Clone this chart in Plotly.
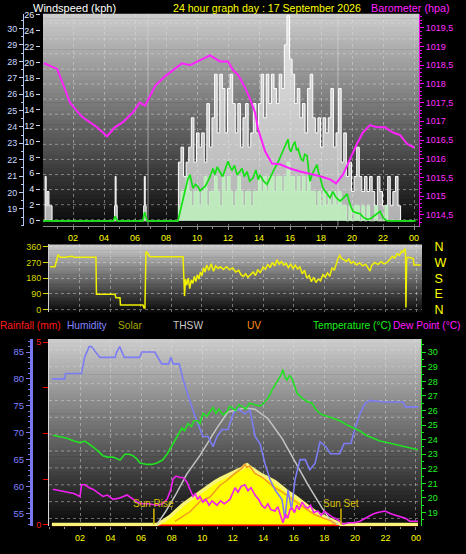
import plotly.graph_objects as go

W, H = 466, 554
def px(x): return x / W
def py(y): return 1 - y / H

# ---------------- DATA ----------------
hour_ticks = [2, 4, 6, 8, 10, 12, 14, 16, 18, 20, 22, 24]
hour_labels = ["02", "04", "06", "08", "10", "12", "14", "16", "18", "20", "22", "00"]

# Barometer (hPa)
baro = [(0.13,1018.55),(0.97,1018.4),(1.35,1018.0),(1.8,1017.5),(2.45,1017.18),(2.65,1017.1),
        (3.55,1016.84),(4.2,1016.6),(4.7,1016.84),(5.2,1016.97),(5.87,1017.24),(6.3,1017.5),
        (6.65,1017.42),(7.3,1017.95),(7.94,1018.2),(8.58,1018.4),(9.03,1018.55),(9.55,1018.5),
        (10.2,1018.63),(10.84,1018.76),(11.48,1018.6),(12.0,1018.6),(12.32,1018.37),(12.65,1018.24),
        (13.1,1017.9),(13.42,1017.6),(13.74,1017.24),(13.94,1016.79),(14.39,1016.2),(14.84,1015.87),
        (15.35,1015.85),(16.0,1015.74),(16.65,1015.66),(17.3,1015.6),(17.94,1015.53),(18.58,1015.45),
        (18.97,1015.34),(19.42,1015.58),(19.87,1016.0),(20.32,1016.4),(20.7,1016.7),(21.16,1016.9),
        (21.6,1016.84),(22.13,1016.84),(22.65,1016.7),(23.1,1016.63),(23.55,1016.4),(24.0,1016.3)]

# Wind gust (kph): early isolated readings, then 10-minute readings from 08:48
gust_early = [(0.0,0),(0.15,0),(0.2,5.6),(0.27,1.9),(0.33,3.7),(0.45,1.9),(0.55,1.9),(0.65,0),
              (4.62,0),(4.68,1.9),(4.72,5.6),(4.78,1.9),(4.85,0),(6.5,0),(6.56,1.9),(6.6,5.6),
              (6.66,1.9),(6.72,0),(8.75,0)]
gust_start = 8.8
gust_10min = [7.4, 9.3, 5.6, 7.4, 9.3, 13.0,
              7.4, 11.1, 9.3, 11.1, 7.4, 14.8,
              9.3, 13.0, 18.5, 11.1, 18.5, 16.7,
              11.1, 16.7, 18.5, 14.8, 11.1, 14.8,
              9.3, 13.0, 14.8, 9.3, 11.1, 14.8,
              11.1, 14.8, 18.5, 13.0, 18.5, 14.8,
              18.5, 16.7, 14.8, 18.5, 16.7, 22.2,
              25.9, 20.4, 18.5, 14.8, 16.7, 13.0,
              14.8, 11.1, 16.7, 18.5, 13.0, 11.1,
              13.0, 9.3, 13.0, 11.1, 13.0, 16.7,
              9.3, 11.1, 16.7, 7.4, 11.1, 5.6,
              7.4, 3.7, 5.6, 9.3, 5.6, 3.7,
              5.6, 3.7, 5.6, 3.7, 1.9, 5.6,
              3.7, 1.9, 1.9, 5.6, 1.9, 3.7,
              5.6, 1.9, 0, 0, 0, 0,
              0, 0]
# Wind speed (kph), 10-minute readings from 08:48
speed_10min = [1.9, 3.7, 3.7, 5.6, 3.7, 1.9,
               3.7, 3.7, 1.9, 3.7, 5.6, 1.9,
               3.7, 3.7, 5.6, 3.7, 1.9, 5.6,
               3.7, 5.6, 3.7, 1.9, 3.7, 5.6,
               3.7, 1.9, 3.7, 3.7, 1.9, 3.7,
               3.7, 5.6, 3.7, 5.6, 3.7, 5.6,
               5.6, 3.7, 5.6, 5.6, 3.7, 5.6,
               7.4, 5.6, 5.6, 3.7, 5.6, 3.7,
               5.6, 3.7, 5.6, 3.7, 3.7, 1.9,
               3.7, 1.9, 3.7, 1.9, 3.7, 1.9,
               3.7, 1.9, 3.7, 1.9, 1.9, 0,
               1.9, 0, 1.9, 1.9, 0, 1.9,
               0, 1.9, 0, 0, 1.9, 0,
               0, 0, 1.9, 0, 0, 0,
               0, 0, 0, 0, 0, 0,
               0, 0]
# Average wind (kph)
wind_avg = [(0,0),(4.6,0),(4.72,0.6),(4.85,0),(6.5,0),(6.62,1.1),(6.78,0),(8.77,0),(9.0,1.9),(9.23,3.7),
            (9.4,5.2),(9.55,5.8),(9.65,4.6),(9.74,4.1),(9.9,4.6),(10.06,4.3),(10.2,3.8),(10.39,4.1),
            (10.55,4.4),(10.7,5.0),(10.85,5.6),(11.03,6.6),(11.15,5.8),(11.3,6.8),(11.48,6.2),(11.65,5.6),
            (11.8,6.4),(12.0,7.5),(12.13,6.8),(12.26,6.4),(12.42,7.0),(12.58,5.8),(12.75,6.2),(12.9,6.6),
            (13.05,5.6),(13.23,6.2),(13.4,5.0),(13.61,5.4),(13.8,6.4),(13.95,5.2),(14.06,5.8),(14.3,5.0),
            (14.52,4.6),(14.7,5.4),(14.84,6.0),(15.0,6.6),(15.16,7.1),(15.35,8.0),(15.55,8.7),(15.7,9.6),
            (15.87,10.3),(15.95,9.2),(16.06,8.7),(16.2,9.6),(16.32,10.0),(16.42,8.9),(16.52,9.1),(16.68,8.0),
            (16.84,7.5),(16.95,8.4),(17.1,8.2),(17.2,6.4),(17.29,5.0),(17.45,6.0),(17.6,6.6),(17.74,7.1),
            (17.85,6.0),(17.94,5.5),(18.13,4.1),(18.3,3.6),(18.45,3.2),(18.58,2.9),(18.77,3.7),(18.95,3.0),
            (19.1,2.7),(19.23,2.5),(19.45,2.9),(19.68,3.4),(19.85,2.2),(20.06,1.2),(20.3,1.0),(20.52,0.9),
            (20.75,0.4),(20.97,0.2),(21.2,0.3),(21.45,0.6),(21.61,0.9),(21.81,1.2),(22.0,0.4),(22.26,0),(24.1,0)]

# Wind direction (degrees)
wind_dir = [(0.07,245),(0.39,245),(0.52,290),(0.59,315),(0.72,300),(1.05,300),(1.5,305),(1.63,300),
            (3.07,300),(3.1,87),(4.31,87),(4.38,68),(4.64,68),(4.67,26),(6.14,26),(6.21,8),(6.27,8),
            (6.34,332),(6.47,320),(6.6,303),(8.76,303),(8.8,160),(8.86,77),(8.92,175),(9.0,140),(9.1,180),
            (9.2,120),(9.3,170),(9.4,150),(9.5,190),(9.6,160),(9.7,200),(9.8,175),(9.9,215),(10.0,195),
            (10.1,240),(10.2,215),(10.3,255),(10.45,225),(10.6,262),(10.75,220),(10.9,250),(11.05,235),
            (11.2,245),(11.4,230),(11.6,245),(11.8,228),(12.0,240),(12.2,215),(12.4,225),(12.55,200),
            (12.7,190),(12.85,205),(13.0,185),(13.15,200),(13.35,215),(13.5,195),(13.65,230),(13.8,210),
            (14.0,245),(14.15,230),(14.3,260),(14.45,240),(14.6,270),(14.75,250),(14.9,285),(15.05,260),
            (15.2,275),(15.35,255),(15.5,265),(15.65,240),(15.8,260),(15.95,235),(16.1,255),(16.25,232),
            (16.4,245),(16.55,205),(16.7,225),(16.85,180),(17.0,195),(17.15,160),(17.3,185),(17.45,155),
            (17.6,175),(17.75,165),(17.9,200),(18.05,185),(18.2,210),(18.35,190),(18.5,240),(18.65,225),
            (18.8,275),(18.9,295),(19.0,310),(19.15,290),(19.3,285),(19.45,275),(19.6,290),(19.75,265),
            (19.9,275),(20.1,255),(20.3,268),(20.5,250),(20.7,260),(20.85,235),(20.98,220),(21.1,255),
            (21.3,270),(21.5,258),(21.7,275),(21.9,262),(22.1,270),(22.3,290),(22.45,305),(22.6,295),
            (22.75,320),(22.9,310),(23.05,335),(23.15,330),(23.27,350),(23.3,330),(23.33,11),(23.38,294),
            (23.45,300),(23.81,294),(23.85,256),(24.3,256)]

# Bottom panel
rain = [(0.16,0),(24.13,0)]
humidity = [(0.16,80),(1.0,80),(1.05,81),(2.1,81),(2.3,84),(2.6,86),(2.75,86),(3.0,85),(3.3,84),(4.3,84),
            (4.4,85),(4.6,86),(4.75,85),(4.9,84),(5.9,84),(6.05,85),(6.9,85),(7.1,84),(7.35,82.8),(7.8,82.8),
            (7.95,84),(8.1,82.8),(8.5,82.8),(8.74,80),(9.0,77.5),(9.2,75.9),(9.45,73.7),(9.72,71.7),
            (10.05,69.3),(10.38,69.3),(10.71,67.4),(10.97,69.3),(11.3,70.6),(11.69,70.6),(12.02,73.5),
            (12.35,74.4),(12.8,73.5),(13.13,74.2),(13.46,69.3),(13.79,68),(14.11,64.3),(14.44,61.3),
            (14.77,59.4),(15.23,57.6),(15.42,54),(15.62,59.4),(15.85,55.7),(16.08,61.3),(16.41,65),
            (16.75,65),(17.05,63.1),(17.39,64.3),(17.72,68.3),(18.1,67.4),(18.4,66.1),(19.0,66.1),
            (19.3,68),(19.74,68),(20.0,70.7),(20.33,73.5),(20.66,75.4),(21.0,76),(21.84,75.7),
            (23.15,75.7),(23.3,74.8),(24.13,74.8)]
temperature = [(0.23,24.3),(0.7,24.2),(1.15,24.1),(1.6,23.9),(2.0,23.8),(2.32,23.9),(2.6,23.7),(2.85,23.5),
               (3.2,23.2),(3.5,22.9),(3.8,22.8),(4.16,22.8),(4.62,22.6),(4.94,23.0),(5.2,23.0),(5.47,22.9),
               (5.7,22.7),(5.93,22.4),(6.39,22.3),(6.7,22.3),(7.04,22.4),(7.4,22.6),(7.7,23.0),(8.09,23.7),
               (8.3,24.1),(8.54,24.5),(8.68,24.8),(8.85,24.6),(9.07,25.1),(9.3,24.9),(9.45,25.3),(9.66,25.3),
               (9.85,25.1),(10.05,25.8),(10.3,25.6),(10.5,25.9),(10.71,26.2),(10.9,25.8),(11.1,26.1),
               (11.35,25.7),(11.62,25.9),(11.8,26.3),(11.95,26.2),(12.2,26.0),(12.4,26.4),(12.61,26.3),
               (12.85,26.1),(13.1,26.5),(13.46,26.4),(13.8,26.3),(14.11,26.6),(14.35,26.9),(14.57,27.4),
               (14.8,27.8),(14.96,28.1),(15.15,28.4),(15.29,28.8),(15.42,28.3),(15.55,28.1),(15.72,28.4),
               (15.88,28.2),(16.05,27.7),(16.21,27.2),(16.4,27.0),(16.6,26.8),(16.9,26.6),(17.19,26.5),
               (17.5,26.0),(17.85,25.7),(18.2,25.6),(18.5,25.5),(19.02,25.3),(19.5,25.0),(19.88,24.8),
               (20.33,24.6),(20.73,24.3),(21.2,24.1),(21.64,23.9),(22.1,23.8),(22.5,23.7),(23.0,23.6),
               (23.35,23.5),(23.8,23.4),(24.13,23.3)]
dew_point = [(0.23,20.6),(0.7,20.5),(1.15,20.4),(1.6,20.3),(2.0,20.1),(2.1,20.9),(2.32,20.9),(2.6,20.7),
             (2.85,20.6),(3.2,20.3),(3.5,20.1),(3.8,20.2),(4.16,19.9),(4.6,20.0),(5.08,20.2),(5.5,19.9),
             (5.93,19.6),(6.5,19.6),(7.04,19.5),(7.4,19.6),(7.7,19.9),(7.95,20.6),(8.09,21.3),(8.3,21.5),
             (8.54,21.4),(8.74,21.4),(9.0,21.1),(9.2,20.6),(9.4,20.1),(9.55,20.3),(9.7,19.9),(9.85,20.1),
             (10.05,19.7),(10.25,19.9),(10.45,19.5),(10.65,19.8),(10.97,19.5),(11.2,19.8),(11.45,19.6),
             (11.82,19.9),(12.0,20.3),(12.15,20.7),(12.35,20.4),(12.55,20.8),(12.8,20.9),(13.0,20.5),
             (13.2,20.7),(13.46,20.2),(13.7,19.9),(13.9,19.5),(14.11,19.3),(14.3,19.6),(14.5,19.2),
             (14.77,19.1),(14.95,19.4),(15.1,18.9),(15.29,18.3),(15.45,18.9),(15.6,18.6),(15.75,19.2),
             (15.88,19.3),(16.05,19.0),(16.2,19.5),(16.35,19.2),(16.54,19.7),(16.75,19.4),(16.93,19.3),
             (17.1,19.5),(17.3,19.0),(17.58,19.1),(17.8,18.8),(18.0,19.1),(18.24,18.9),(18.5,18.7),
             (18.89,18.5),(19.22,18.2),(19.6,18.3),(20.0,18.3),(20.33,18.4),(20.7,18.6),(21.19,18.9),
             (21.5,19.0),(21.97,19.1),(22.4,18.9),(22.96,18.7),(23.3,18.6),(23.61,18.4),(24.13,18.4)]
solar = [(0.16,0),(7.04,0),(7.5,50),(7.89,100),(8.22,160),(8.74,250),(9.3,330),(9.86,410),(10.3,470),
         (10.84,540),(11.2,580),(11.69,625),(12.02,660),(12.3,690),(12.61,710),(12.8,745),(12.95,755),
         (13.13,725),(13.33,700),(13.6,660),(13.92,625),(14.3,590),(14.77,540),(15.2,475),(15.62,410),
         (16.1,350),(16.54,285),(16.95,225),(17.39,160),(17.8,115),(18.24,75),(18.6,40),(18.89,20),
         (19.1,0),(24.13,0)]
thsw = [(7.04,0),(7.6,160),(8.22,360),(9.0,640),(9.86,875),(10.5,1080),(10.97,1225),(11.69,1425),
        (12.02,1440),(12.8,1475),(13.46,1460),(14.31,1340),(15.23,1090),(16.08,790),(16.93,500),
        (17.85,210),(18.5,25),(18.9,0)]
uv = [(8.22,0.4),(8.7,1.0),(9.2,1.7),(9.86,3.1),(10.51,3.7),(11.17,5.3),(11.6,5.9),(12.02,6.7),
      (12.3,7.1),(12.61,7.6),(12.8,8.1),(12.93,7.7),(13.1,7.9),(13.46,6.9),(13.98,6.3),(14.31,5.7),
      (14.64,5.1),(15.23,4.4),(15.95,3.3),(16.41,2.6),(16.93,1.9),(17.39,1.3),(17.85,0.9),(18.5,0.4),(18.76,0)]
sun_rise = 6.84
sun_set = 19.09

wind_ticks = list(range(0, 27, 2))
temp_ticks = list(range(19, 31))
baro_ticks = [1014.5, 1015, 1015.5, 1016, 1016.5, 1017, 1017.5, 1018, 1018.5, 1019, 1019.5]
baro_labels = ["1014,5", "1015", "1015,5", "1016", "1016,5", "1017", "1017,5", "1018", "1018,5", "1019", "1019,5"]
dir_ticks = [0, 90, 180, 270, 360]
compass = ["N", "E", "S", "W", "N"]
hum_ticks = [55, 60, 65, 70, 75, 80, 85]
rain_ticks = [0, 1.25, 2.5, 3.75, 5]
rain_labels = ["0", "", "", "", "5"]

def xs(p): return [a for a, _ in p]
def ys(p): return [b for _, b in p]

gust_t = xs(gust_early) + [gust_start + i / 6 for i in range(len(gust_10min))]
gust_v = ys(gust_early) + gust_10min
speed_t = [0.0] + [gust_start + i / 6 for i in range(len(speed_10min))]
speed_v = [0] + speed_10min

FONT = "Liberation Sans, Arial, sans-serif"
fig = go.Figure()

# ---- top panel ----
fig.add_trace(go.Scatter(x=gust_t, y=gust_v, xaxis="x", yaxis="y", mode="lines",
                         line=dict(color="#ffffff", width=1, shape="hv"),
                         fill="tozeroy", fillcolor="rgba(240,240,240,0.72)", hoverinfo="skip"))
fig.add_trace(go.Scatter(x=speed_t, y=speed_v, xaxis="x", yaxis="y", mode="lines",
                         line=dict(color="#c4f2c4", width=1, shape="hv"),
                         fill="tozeroy", fillcolor="rgba(190,238,190,0.92)", hoverinfo="skip"))
fig.add_trace(go.Scatter(x=xs(wind_avg), y=ys(wind_avg), xaxis="x", yaxis="y", mode="lines",
                         line=dict(color="#14e014", width=1.7), hoverinfo="skip"))
fig.add_trace(go.Scatter(x=xs(baro), y=ys(baro), xaxis="x", yaxis="y2", mode="lines",
                         line=dict(color="#ff22ff", width=2), hoverinfo="skip"))
fig.add_trace(go.Scatter(x=[], y=[], xaxis="x", yaxis="y3", mode="lines", hoverinfo="skip"))

# ---- middle panel ----
fig.add_trace(go.Scatter(x=xs(wind_dir), y=ys(wind_dir), xaxis="x2", yaxis="y4", mode="lines",
                         line=dict(color="#f0f000", width=1.5), hoverinfo="skip"))
fig.add_trace(go.Scatter(x=[], y=[], xaxis="x2", yaxis="y5", mode="lines", hoverinfo="skip"))

# ---- bottom panel ----
fig.add_trace(go.Scatter(x=xs(rain), y=ys(rain), xaxis="x3", yaxis="y6", mode="lines",
                         line=dict(color="#ff0000", width=3), hoverinfo="skip"))
fig.add_trace(go.Scatter(x=xs(solar), y=ys(solar), xaxis="x3", yaxis="y7", mode="lines",
                         line=dict(color="#f8f47a", width=3.5), fill="tozeroy",
                         fillcolor="#ffff00", hoverinfo="skip"))
fig.add_trace(go.Scatter(x=xs(thsw), y=ys(thsw), xaxis="x3", yaxis="y7", mode="lines",
                         line=dict(color="#c4c4c4", width=1.5), hoverinfo="skip"))
fig.add_trace(go.Scatter(x=xs(uv), y=ys(uv), xaxis="x3", yaxis="y8", mode="lines",
                         line=dict(color="#f59a20", width=1.5), hoverinfo="skip"))
fig.add_trace(go.Scatter(x=xs(humidity), y=ys(humidity), xaxis="x3", yaxis="y9", mode="lines",
                         line=dict(color="#7c7cf4", width=1.6), hoverinfo="skip"))
fig.add_trace(go.Scatter(x=xs(temperature), y=ys(temperature), xaxis="x3", yaxis="y10", mode="lines",
                         line=dict(color="#22e022", width=1.6), hoverinfo="skip"))
fig.add_trace(go.Scatter(x=xs(dew_point), y=ys(dew_point), xaxis="x3", yaxis="y10", mode="lines",
                         line=dict(color="#f020f0", width=1.6), hoverinfo="skip"))

# ---------------- shapes: gradients & grid ----------------
shapes = []
def gradient(x0, x1, y0, y1, c0=205, c1=8, n=48):
    for i in range(n):
        ya = y0 + (y1 - y0) * i / n
        yb = y0 + (y1 - y0) * (i + 1) / n + 0.6
        c = round(c0 + (c1 - c0) * (i + 0.5) / n)
        shapes.append(dict(type="rect", xref="paper", yref="paper", x0=px(x0), x1=px(x1),
                           y0=py(min(yb, y1)), y1=py(ya), fillcolor=f"rgb({c},{c},{c})",
                           line=dict(width=0), layer="below"))

gradient(43, 419, 10, 225)
gradient(49, 422, 244, 313)
gradient(49, 421, 340, 530)

GRID = "rgba(225,225,225,0.45)"
for k in range(14):
    yy = 20 + 15.3 * k
    shapes.append(dict(type="line", xref="paper", yref="paper", x0=px(43), x1=px(419), y0=py(yy), y1=py(yy),
                       line=dict(color=GRID, width=1, dash="dot"), layer="below"))
for k in range(11):
    yy = 351 + 17.1 * k
    shapes.append(dict(type="line", xref="paper", yref="paper", x0=px(49), x1=px(421), y0=py(yy), y1=py(yy),
                       line=dict(color=GRID, width=1, dash="dot"), layer="below"))
# sunrise / sunset markers
for t in (sun_rise, sun_set):
    shapes.append(dict(type="line", xref="x", yref="paper", x0=t, x1=t, y0=py(225), y1=py(10),
                       line=dict(color="rgba(215,215,215,0.6)", width=1), layer="below"))
    shapes.append(dict(type="line", xref="x3", yref="paper", x0=t, x1=t, y0=py(528), y1=py(512),
                       line=dict(color="#d0b800", width=1.5), layer="above"))

# ---------------- annotations ----------------
ann = []
def text(x, y, s, color, size=10.5, xanchor="left"):
    ann.append(dict(x=px(x), y=py(y), xref="paper", yref="paper", text=s, showarrow=False,
                    xanchor=xanchor, yanchor="middle", borderpad=0,
                    font=dict(color=color, size=size, family=FONT)))

text(32, 4, "Windspeed (kph)", "#ffffff", 11)
text(172, 4, "24 hour graph day : 17 September 2026", "#ffff00", 10.6)
text(370, 4, "Barometer (hpa)", "#ff22ff", 10.8)
text(-1, 326, "Rainfall (mm)", "#ff1a1a", 10.2)
text(66, 326, "Humidity", "#8484ff", 10.2)
text(117, 326, "Solar", "#a8a800", 10.2)
text(172, 326, "THSW", "#c8c8c8", 10.2)
text(246, 326, "UV", "#ff8c1a", 10.2)
text(312, 326, "Temperature (°C)", "#1af01a", 10.2)
text(392, 326, "Dew Point (°C)", "#ff1aff", 10.2)
for t, s in ((sun_rise, "Sun Rise"), (sun_set, "Sun Set")):
    ann.append(dict(x=t, y=py(507), xref="x3", yref="paper", text=s, showarrow=False, xanchor="center",
                    yanchor="middle", font=dict(color="#d8c000", size=10, family=FONT)))

tickfont = lambda c, s=9: dict(color=c, size=s, family=FONT)

fig.update_layout(
    width=W, height=H, autosize=False, margin=dict(l=0, r=0, t=0, b=0),
    paper_bgcolor="#000000", plot_bgcolor="rgba(0,0,0,0)", showlegend=False,
    font=dict(family=FONT), shapes=shapes, annotations=ann, hovermode=False,
    # top
    xaxis=dict(domain=[px(43), px(419)], range=[0.065, 24.32], anchor="y", tickmode="array",
               tickvals=hour_ticks, ticktext=hour_labels, tickfont=tickfont("#ffff00"),
               ticks="outside", ticklen=3, tickcolor="#909090", showline=True, linecolor="#8c8c8c",
               showgrid=True, gridcolor=GRID, griddash="dot", zeroline=False,
               minor=dict(tickmode="linear", tick0=0, dtick=1, ticklen=2, tickcolor="#909090", showgrid=False)),
    yaxis=dict(domain=[py(225), py(10)], range=[-0.62, 26.12], anchor="free", position=px(40), side="left",
               tickmode="array", tickvals=wind_ticks, tickfont=tickfont("#e0e8ff"), ticks="outside",
               ticklen=4, tickcolor="#c8d4f0", showgrid=False, zeroline=False, showline=False),
    yaxis2=dict(overlaying="y", side="right", anchor="x", range=[1014.21, 1019.87], tickmode="array",
                tickvals=baro_ticks, ticktext=baro_labels, tickfont=tickfont("#ff30ff"), ticks="outside",
                ticklen=4, tickcolor="#ff00ff", showline=True, linecolor="#e000e0", showgrid=False,
                zeroline=False,
                minor=dict(tickmode="linear", tick0=1014, dtick=0.1, ticklen=2, tickcolor="#e000e0", showgrid=False)),
    yaxis3=dict(overlaying="y", anchor="free", position=px(23), side="left", range=[17.97, 30.9],
                tickmode="array", tickvals=temp_ticks, tickfont=tickfont("#c8d8ff"), ticks="outside",
                ticklen=4, tickcolor="#b8c8f0", showline=True, linecolor="#b8c8f0", showgrid=False,
                zeroline=False,
                minor=dict(tickmode="linear", tick0=18, dtick=0.5, ticklen=2, tickcolor="#b8c8f0", showgrid=False)),
    # middle
    xaxis2=dict(domain=[px(49), px(422)], range=[0, 24.38], anchor="y4", showticklabels=False, ticks="",
                showgrid=True, gridcolor=GRID, griddash="dot", dtick=2, tick0=0, zeroline=False, showline=False),
    yaxis4=dict(domain=[py(313), py(244)], range=[-17, 373], anchor="x2", tickmode="array", tickvals=dir_ticks,
                tickfont=tickfont("#d8d800"), ticks="outside", ticklen=5, tickcolor="#d8d800",
                showline=True, linecolor="#cfcfcf", showgrid=True, gridcolor=GRID, griddash="dot",
                zeroline=False),
    yaxis5=dict(overlaying="y4", side="right", anchor="x2", range=[-17, 373], tickmode="array",
                tickvals=dir_ticks, ticktext=compass, tickfont=tickfont("#ffff00", 12.5), ticks="outside",
                ticklen=9, tickcolor="rgba(0,0,0,0)", showgrid=False, zeroline=False, showline=False),
    # bottom
    xaxis3=dict(domain=[px(49), px(421)], range=[-0.03, 24.33], anchor="y6", tickmode="array",
                tickvals=hour_ticks, ticktext=hour_labels, tickfont=tickfont("#ffff00"), ticks="outside",
                ticklen=3, tickcolor="#909090", showgrid=True, gridcolor=GRID, griddash="dot",
                zeroline=False, showline=False,
                minor=dict(tickmode="linear", tick0=0, dtick=1, ticklen=2, tickcolor="#909090", showgrid=False)),
    yaxis6=dict(domain=[py(530), py(340)], range=[-0.04, 5.08], anchor="x3", tickmode="array",
                tickvals=rain_ticks, ticktext=rain_labels, tickfont=tickfont("#ff1a1a"), ticks="outside",
                ticklen=5, tickcolor="#ff0000", showline=True, linecolor="#d8d8d8", showgrid=False,
                zeroline=False),
    yaxis7=dict(overlaying="y6", range=[-25, 2350], visible=False, showgrid=False, zeroline=False),
    yaxis8=dict(overlaying="y6", range=[-0.27, 25.07], visible=False, showgrid=False, zeroline=False),
    yaxis9=dict(overlaying="y6", anchor="free", position=px(31), side="left", range=[52.6, 87.4],
                tickmode="array", tickvals=hum_ticks, tickfont=tickfont("#8080ff", 9.5), ticks="outside",
                ticklen=4, tickcolor="#7878f0", showline=True, linecolor="#7878f0", linewidth=3,
                showgrid=False, zeroline=False,
                minor=dict(tickmode="linear", tick0=50, dtick=1, ticklen=2, tickcolor="#7878f0", showgrid=False)),
    yaxis10=dict(overlaying="y6", side="right", anchor="x3", range=[18.05, 30.9], tickmode="array",
                 tickvals=temp_ticks, tickfont=tickfont("#22f022"), ticks="outside", ticklen=4,
                 tickcolor="#20e020", showline=True, linecolor="#20e020", showgrid=False, zeroline=False,
                 minor=dict(tickmode="linear", tick0=18, dtick=0.5, ticklen=2, tickcolor="#20e020", showgrid=False)),
)

fig.write_html("out.html", config={"displayModeBar": False},
               post_script="document.body.style.margin='0';document.body.style.overflow='hidden';")
